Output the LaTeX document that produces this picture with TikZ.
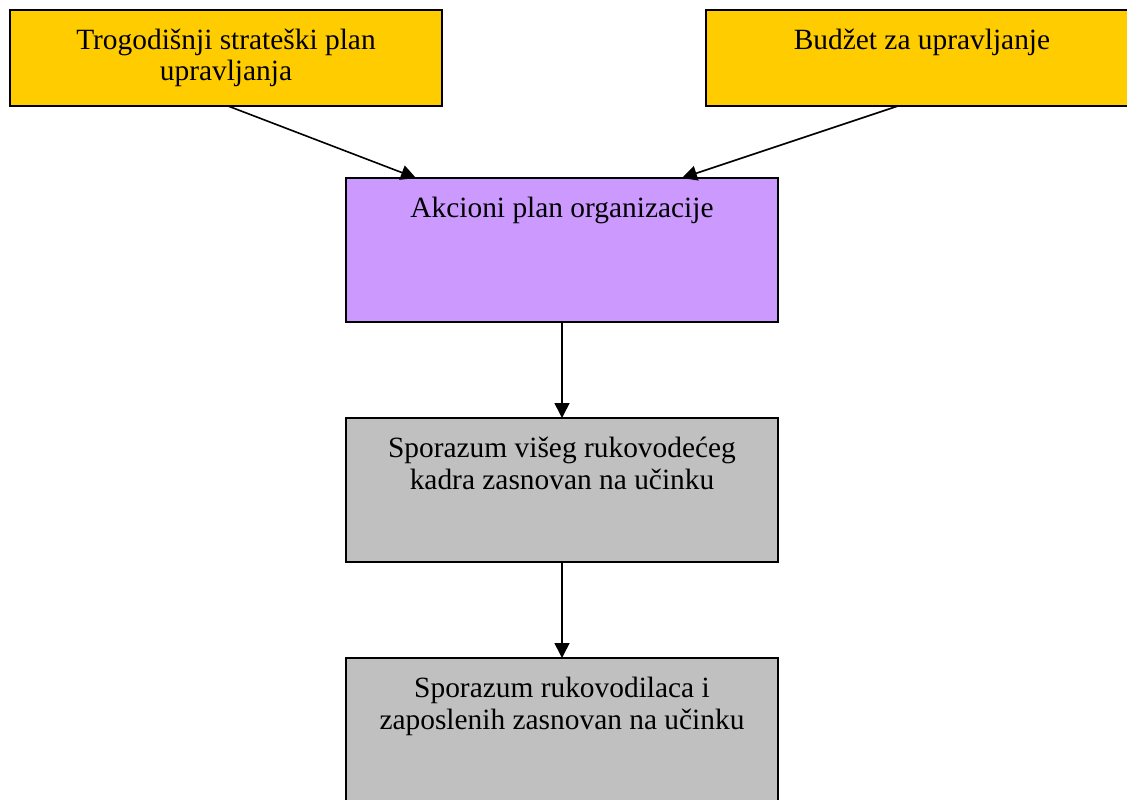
\documentclass[tikz,border=0pt]{standalone}
\usepackage{fontspec}
\setmainfont{Liberation Serif}
\usetikzlibrary{arrows.meta}
\definecolor{ybox}{HTML}{FFCC00}
\definecolor{pbox}{HTML}{CC99FF}
\definecolor{gbox}{HTML}{C0C0C0}
\begin{document}
\begin{tikzpicture}[x=1pt,y=-1pt,
  box/.style={draw=black, line width=2pt, anchor=north west, minimum width=432pt, inner sep=0pt, outer sep=0pt},
  lbl/.style={anchor=base, align=center, font=\fontsize{29.4}{32}\selectfont, inner sep=0pt},
  arr/.style={-{Triangle[length=15pt,width=15pt]}, line width=1.6pt}]
\useasboundingbox (0,0) rectangle (1127,800);
\node[box, fill=ybox, minimum height=96pt] (t1) at (10,10) {};
\node[box, fill=ybox, minimum height=96pt] (t2) at (706,10) {};
\node[box, fill=pbox, minimum height=144pt] (a) at (346,178) {};
\node[box, fill=gbox, minimum height=144pt] (g1) at (346,418) {};
\node[box, fill=gbox, minimum height=144pt] (g2) at (346,658) {};
\node[lbl] (t1l) at ([yshift=-71pt]t1.north) {Trogodišnji strateški plan\\upravljanja};
\node[lbl] (t2l) at ([yshift=-39pt]t2.north) {Budžet za upravljanje};
\node[lbl] (al) at ([yshift=-39pt]a.north) {Akcioni plan organizacije};
\node[lbl] (g1l) at ([yshift=-71pt]g1.north) {Sporazum višeg rukovodećeg\\kadra zasnovan na učinku};
\node[lbl] (g2l) at ([yshift=-71pt]g2.north) {Sporazum rukovodilaca i\\zaposlenih zasnovan na učinku};
\draw[arr] ([xshift=2pt]t1.south) -- ([xshift=-146pt]a.north);
\draw[arr] ([xshift=-24pt]t2.south) -- ([xshift=120pt]a.north);
\draw[arr] (a.south) -- (g1.north);
\draw[arr] (g1.south) -- (g2.north);
\end{tikzpicture}
\end{document}
